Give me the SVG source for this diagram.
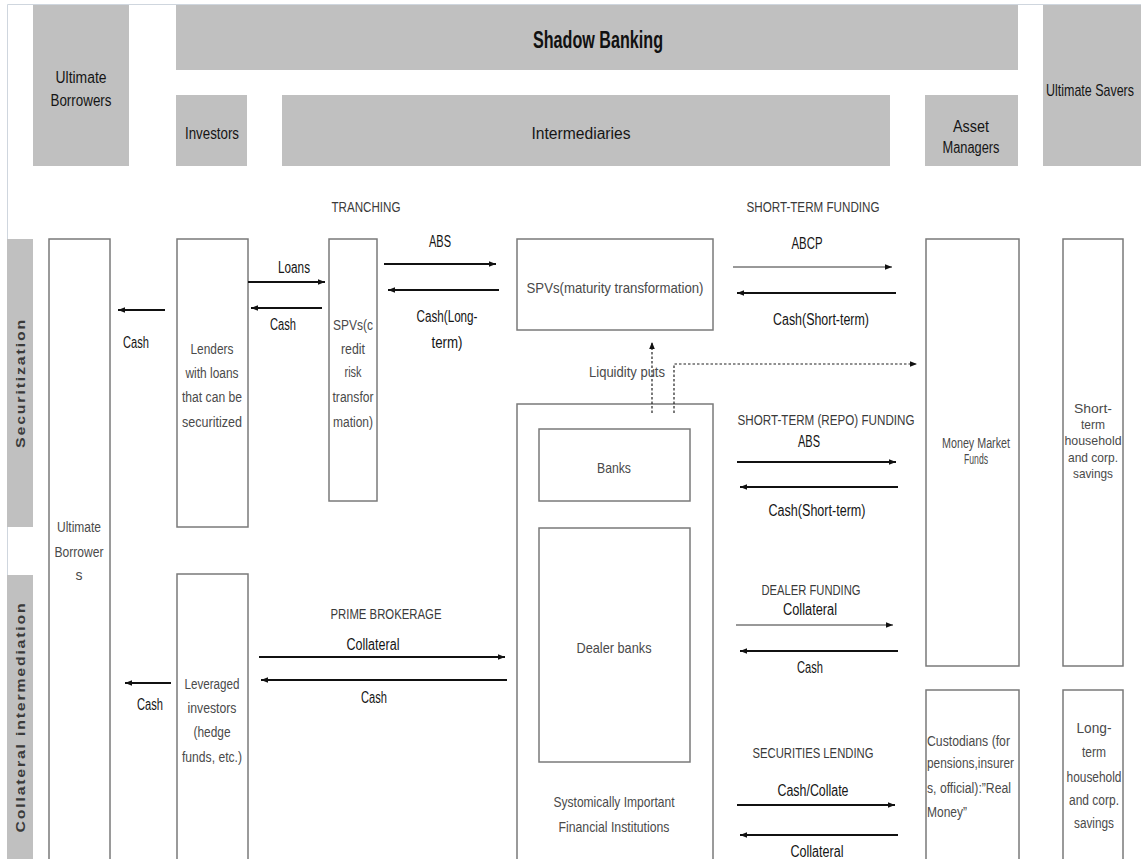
<svg xmlns="http://www.w3.org/2000/svg" width="1141" height="859" viewBox="0 0 1141 859">
<defs>
<style>
.g{fill:#c0c0c0;stroke:none}
.b{fill:#fff;stroke:#7a7a7a;stroke-width:1.5}
text{font-family:"Liberation Sans",Arial,sans-serif}
.hdr{font-size:16px;fill:#151515;text-anchor:middle}
.lbl{font-size:16px;fill:#151515;text-anchor:middle}
.sec{font-size:14px;fill:#3a3a3a;text-anchor:middle}
.bx{font-size:14px;fill:#4a4a4a;text-anchor:middle}
.bxl{font-size:15px;fill:#4a4a4a;text-anchor:middle}
.bxs{font-size:13px;fill:#4a4a4a;text-anchor:middle}
.vt{font-size:13px;font-weight:bold;fill:#3a3a3a;text-anchor:middle;letter-spacing:1.5px}
.a{stroke:#111;stroke-width:1.8;fill:none;marker-end:url(#ah)}
.at{stroke:#333;stroke-width:1;fill:none;marker-end:url(#ah)}
.d{stroke:#222;stroke-width:1.2;stroke-dasharray:2.5,2;fill:none;marker-end:url(#ah)}
</style>
<marker id="ah" viewBox="0 0 10 10" refX="10" refY="5" markerWidth="7" markerHeight="7" markerUnits="userSpaceOnUse" orient="auto">
<path d="M0,1 L10,5 L0,9 z" fill="#111"/>
</marker>
</defs>
<rect x="0" y="0" width="1141" height="859" fill="#fff"/>
<path d="M7.5,859 V4.5 H1141" fill="none" stroke="#cfd6de" stroke-width="1"/>

<g id="hdr-ultimate-borrowers">
<rect class="g" x="33" y="5" width="96" height="161"/>
<text class="hdr" x="81" y="83" textLength="51" lengthAdjust="spacingAndGlyphs">Ultimate</text>
<text class="hdr" x="81" y="106" textLength="61" lengthAdjust="spacingAndGlyphs">Borrowers</text>
</g>
<g id="hdr-shadow-banking">
<rect class="g" x="176" y="5" width="842" height="65"/>
<text x="598" y="48" style="font-size:24px;font-weight:bold;fill:#111;text-anchor:middle" textLength="130" lengthAdjust="spacingAndGlyphs">Shadow Banking</text>
</g>
<g id="hdr-investors">
<rect class="g" x="176" y="95" width="71" height="71"/>
<text class="hdr" x="212" y="139" textLength="54" lengthAdjust="spacingAndGlyphs">Investors</text>
</g>
<g id="hdr-intermediaries">
<rect class="g" x="282" y="95" width="608" height="71"/>
<text class="hdr" x="581" y="139" textLength="99" lengthAdjust="spacingAndGlyphs">Intermediaries</text>
</g>
<g id="hdr-asset-managers">
<rect class="g" x="925" y="95" width="93" height="71"/>
<text class="hdr" x="971" y="132" textLength="36" lengthAdjust="spacingAndGlyphs">Asset</text>
<text class="hdr" x="971" y="153" textLength="57" lengthAdjust="spacingAndGlyphs">Managers</text>
</g>
<g id="hdr-ultimate-savers">
<rect class="g" x="1043" y="5" width="98" height="161"/>
<text transform="translate(1046,96) scale(0.78,1)" x="0" y="0" style="font-size:16px;fill:#151515">Ultimate Savers</text>
</g>

<g id="band-securitization">
<rect class="g" x="7" y="239" width="26" height="288"/>
<text class="vt" transform="translate(25,383) rotate(-90)" textLength="130" lengthAdjust="spacingAndGlyphs">Securitization</text>
</g>
<g id="band-collateral">
<rect class="g" x="7" y="575" width="26" height="290"/>
<text class="vt" transform="translate(25,717) rotate(-90)" textLength="231" lengthAdjust="spacingAndGlyphs">Collateral intermediation</text>
</g>

<g id="node-ultimate-borrowers">
<rect class="b" x="49" y="239" width="61" height="625"/>
<text class="bx" x="79" y="532" textLength="44" lengthAdjust="spacingAndGlyphs">Ultimate</text>
<text class="bx" x="79" y="557" textLength="49" lengthAdjust="spacingAndGlyphs">Borrower</text>
<text class="bx" x="79" y="580">s</text>
</g>
<g id="node-lenders">
<rect class="b" x="177" y="239" width="71" height="288"/>
<text class="bx" x="212" y="354" textLength="43" lengthAdjust="spacingAndGlyphs">Lenders</text>
<text class="bx" x="212" y="378" textLength="53" lengthAdjust="spacingAndGlyphs">with loans</text>
<text class="bx" x="212" y="402" textLength="60" lengthAdjust="spacingAndGlyphs">that can be</text>
<text class="bx" x="212" y="427" textLength="60" lengthAdjust="spacingAndGlyphs">securitized</text>
</g>
<g id="node-spv-credit">
<rect class="b" x="329" y="239" width="48" height="262"/>
<text class="bx" x="353" y="330" textLength="40" lengthAdjust="spacingAndGlyphs">SPVs(c</text>
<text class="bx" x="353" y="354" textLength="24" lengthAdjust="spacingAndGlyphs">redit</text>
<text class="bx" x="353" y="377" textLength="17" lengthAdjust="spacingAndGlyphs">risk</text>
<text class="bx" x="353" y="402" textLength="41" lengthAdjust="spacingAndGlyphs">transfor</text>
<text class="bx" x="353" y="427" textLength="40" lengthAdjust="spacingAndGlyphs">mation)</text>
</g>
<g id="node-spv-maturity">
<rect class="b" x="517" y="239" width="196" height="91"/>
<text class="bxl" x="615" y="293" textLength="177" lengthAdjust="spacingAndGlyphs">SPVs(maturity transformation)</text>
</g>
<g id="node-sifi">
<rect class="b" x="517" y="404" width="196" height="460"/>
<text class="bxl" x="614" y="807" textLength="121" lengthAdjust="spacingAndGlyphs">Systomically Important</text>
<text class="bxl" x="614" y="832" textLength="111" lengthAdjust="spacingAndGlyphs">Financial Institutions</text>
</g>
<g id="node-banks">
<rect class="b" x="539" y="429" width="151" height="72"/>
<text class="bxl" x="614" y="473" textLength="34" lengthAdjust="spacingAndGlyphs">Banks</text>
</g>
<g id="node-dealer-banks">
<rect class="b" x="539" y="528" width="151" height="234"/>
<text class="bxl" x="614" y="653" textLength="75" lengthAdjust="spacingAndGlyphs">Dealer banks</text>
</g>
<g id="node-mmf">
<rect class="b" x="926" y="239" width="93" height="427"/>
<text class="bx" x="976" y="448" textLength="68" lengthAdjust="spacingAndGlyphs">Money Market</text>
<text class="bx" x="976" y="464" textLength="24" lengthAdjust="spacingAndGlyphs">Funds</text>
</g>
<g id="node-short-savings">
<rect class="b" x="1063" y="239" width="60" height="427"/>
<text class="bxs" x="1093" y="413" textLength="38" lengthAdjust="spacingAndGlyphs">Short-</text>
<text class="bxs" x="1093" y="429" textLength="24" lengthAdjust="spacingAndGlyphs">term</text>
<text class="bxs" x="1093" y="445" textLength="57" lengthAdjust="spacingAndGlyphs">household</text>
<text class="bxs" x="1093" y="462" textLength="50" lengthAdjust="spacingAndGlyphs">and corp.</text>
<text class="bxs" x="1093" y="478" textLength="40" lengthAdjust="spacingAndGlyphs">savings</text>
</g>
<g id="node-leveraged">
<rect class="b" x="177" y="574" width="71" height="290"/>
<text class="bx" x="212" y="689" textLength="55" lengthAdjust="spacingAndGlyphs">Leveraged</text>
<text class="bx" x="212" y="713" textLength="49" lengthAdjust="spacingAndGlyphs">investors</text>
<text class="bx" x="212" y="737" textLength="37" lengthAdjust="spacingAndGlyphs">(hedge</text>
<text class="bx" x="212" y="762" textLength="60" lengthAdjust="spacingAndGlyphs">funds, etc.)</text>
</g>
<g id="node-custodians">
<rect class="b" x="926" y="690" width="93" height="174"/>
<text x="927" y="746" style="font-size:14px;fill:#4a4a4a" textLength="83" lengthAdjust="spacingAndGlyphs">Custodians (for</text>
<text x="927" y="768" style="font-size:14px;fill:#4a4a4a" textLength="87" lengthAdjust="spacingAndGlyphs">pensions,insurer</text>
<text x="927" y="793" style="font-size:14px;fill:#4a4a4a" textLength="84" lengthAdjust="spacingAndGlyphs">s, official):”Real</text>
<text x="927" y="817" style="font-size:14px;fill:#4a4a4a" textLength="40" lengthAdjust="spacingAndGlyphs">Money”</text>
</g>
<g id="node-long-savings">
<rect class="b" x="1063" y="690" width="60" height="174"/>
<text class="bx" x="1094" y="733" textLength="35" lengthAdjust="spacingAndGlyphs">Long-</text>
<text class="bx" x="1094" y="757" textLength="24" lengthAdjust="spacingAndGlyphs">term</text>
<text class="bx" x="1094" y="782" textLength="55" lengthAdjust="spacingAndGlyphs">household</text>
<text class="bx" x="1094" y="805" textLength="50" lengthAdjust="spacingAndGlyphs">and corp.</text>
<text class="bx" x="1094" y="828" textLength="40" lengthAdjust="spacingAndGlyphs">savings</text>
</g>

<g id="connectors">
<path class="a" d="M165,310 H118"/>
<path class="a" d="M248,282 H325"/>
<path class="a" d="M322,308 H251"/>
<path class="a" d="M384,264 H496"/>
<path class="a" d="M499,290 H388"/>
<path class="at" d="M733,267 H892"/>
<path class="a" d="M896,293 H737"/>
<path class="a" d="M737,462 H896"/>
<path class="a" d="M898,487 H740"/>
<path class="a" d="M259,657 H505"/>
<path class="a" d="M507,680 H261"/>
<path class="a" d="M171,683 H125"/>
<path class="at" d="M736,625 H893"/>
<path class="a" d="M898,651 H740"/>
<path class="a" d="M737,805 H895"/>
<path class="a" d="M898,835 H740"/>
<path class="d" d="M652,413 V342"/>
<path class="d" d="M674,413 V364 H917"/>
</g>

<g id="labels">
<text class="sec" x="366" y="212" textLength="69" lengthAdjust="spacingAndGlyphs">TRANCHING</text>
<text class="sec" x="813" y="212" textLength="133" lengthAdjust="spacingAndGlyphs">SHORT-TERM FUNDING</text>
<text class="lbl" x="136" y="348" textLength="26" lengthAdjust="spacingAndGlyphs">Cash</text>
<text class="lbl" x="294" y="273" textLength="32" lengthAdjust="spacingAndGlyphs">Loans</text>
<text class="lbl" x="283" y="330" textLength="26" lengthAdjust="spacingAndGlyphs">Cash</text>
<text class="lbl" x="440" y="247" textLength="22" lengthAdjust="spacingAndGlyphs">ABS</text>
<text class="lbl" x="447" y="322" textLength="61" lengthAdjust="spacingAndGlyphs">Cash(Long-</text>
<text class="lbl" x="447" y="348" textLength="31" lengthAdjust="spacingAndGlyphs">term)</text>
<text class="lbl" x="807" y="249" textLength="31" lengthAdjust="spacingAndGlyphs">ABCP</text>
<text class="lbl" x="821" y="325" textLength="96" lengthAdjust="spacingAndGlyphs">Cash(Short-term)</text>
<text class="bx" x="627" y="377" textLength="76" lengthAdjust="spacingAndGlyphs">Liquidity puts</text>
<text class="sec" x="826" y="425" textLength="177" lengthAdjust="spacingAndGlyphs">SHORT-TERM (REPO) FUNDING</text>
<text class="lbl" x="809" y="447" textLength="22" lengthAdjust="spacingAndGlyphs">ABS</text>
<text class="lbl" x="817" y="516" textLength="97" lengthAdjust="spacingAndGlyphs">Cash(Short-term)</text>
<text class="sec" x="811" y="595" textLength="99" lengthAdjust="spacingAndGlyphs">DEALER FUNDING</text>
<text class="lbl" x="810" y="615" textLength="54" lengthAdjust="spacingAndGlyphs">Collateral</text>
<text class="lbl" x="810" y="673" textLength="26" lengthAdjust="spacingAndGlyphs">Cash</text>
<text class="sec" x="813" y="758" textLength="121" lengthAdjust="spacingAndGlyphs">SECURITIES LENDING</text>
<text class="lbl" x="813" y="796" textLength="71" lengthAdjust="spacingAndGlyphs">Cash/Collate</text>
<text class="lbl" x="817" y="857" textLength="53" lengthAdjust="spacingAndGlyphs">Collateral</text>
<text class="sec" x="386" y="619" textLength="111" lengthAdjust="spacingAndGlyphs">PRIME BROKERAGE</text>
<text class="lbl" x="373" y="650" textLength="53" lengthAdjust="spacingAndGlyphs">Collateral</text>
<text class="lbl" x="374" y="703" textLength="26" lengthAdjust="spacingAndGlyphs">Cash</text>
<text class="lbl" x="150" y="710" textLength="26" lengthAdjust="spacingAndGlyphs">Cash</text>
</g>
</svg>
